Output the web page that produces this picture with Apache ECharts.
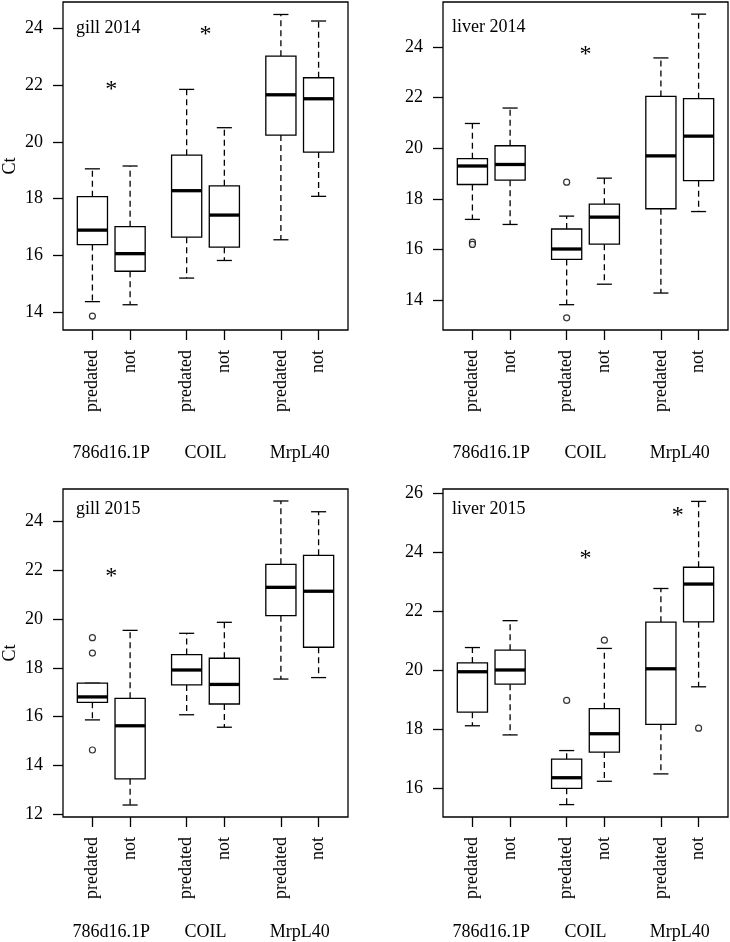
<!DOCTYPE html>
<html>
<head>
<meta charset="utf-8">
<script src="https://cdn.jsdelivr.net/npm/echarts@6/dist/echarts.min.js"></script>
<style>
html,body{margin:0;padding:0;background:#fff;}
#chart{width:730px;height:942px;}
</style>
</head>
<body>
<div id="chart"></div>
<script>
// ---- data ----
const positions = [1, 2, 3.5, 4.5, 6, 7];
const groupLabels = ['predated', 'not', 'predated', 'not', 'predated', 'not'];
const genes = ['786d16.1P', 'COIL', 'MrpL40'];
const genePositions = [1.5, 4, 6.5];

const panelTitles = ['gill 2014', 'liver 2014', 'gill 2015', 'liver 2015'];

// [low whisker, Q1, median, Q3, high whisker] for each box
const gill2014Box = [
  [14.37, 16.38, 16.89, 18.07, 19.05],
  [14.26, 15.44, 16.06, 17.01, 19.15],
  [15.20, 16.64, 18.28, 19.53, 21.85],
  [15.82, 16.29, 17.42, 18.45, 20.50],
  [16.55, 20.24, 21.66, 23.02, 24.49],
  [18.08, 19.64, 21.52, 22.26, 24.26]
];
const gill2014Outliers = [[1, 13.86]];
const gill2014Stars = [[1.5, 22.0], [4, 23.95]];

const liver2014Box = [
  [17.19, 18.57, 19.30, 19.59, 20.98],
  [16.99, 18.74, 19.36, 20.10, 21.59],
  [13.82, 15.61, 16.02, 16.81, 17.32],
  [14.63, 16.21, 17.28, 17.79, 18.82],
  [14.28, 17.61, 19.70, 22.05, 23.57],
  [17.50, 18.72, 20.48, 21.96, 25.30]
];
const liver2014Outliers = [[1, 16.29], [1, 16.20], [3.5, 18.66], [3.5, 13.30]];
const liver2014Stars = [[4, 23.88]];

const gill2015Box = [
  [15.87, 16.59, 16.81, 17.37, 17.37],
  [12.39, 13.46, 15.63, 16.75, 19.53],
  [16.08, 17.30, 17.91, 18.54, 19.41],
  [15.57, 16.52, 17.32, 18.39, 19.86],
  [17.54, 20.13, 21.29, 22.23, 24.82],
  [17.60, 18.84, 21.13, 22.60, 24.38]
];
const gill2015Outliers = [[1, 19.23], [1, 18.60], [1, 14.64]];
const gill2015Stars = [[1.5, 21.93]];

const liver2015Box = [
  [18.13, 18.59, 19.96, 20.26, 20.78],
  [17.82, 19.54, 20.02, 20.69, 21.69],
  [15.46, 16.01, 16.37, 17.00, 17.29],
  [16.25, 17.24, 17.86, 18.71, 20.75],
  [16.50, 18.18, 20.06, 21.64, 22.78],
  [19.45, 21.65, 22.93, 23.50, 25.73]
];
const liver2015Outliers = [[3.5, 18.99], [4.5, 21.03], [7, 18.05]];
const liver2015Stars = [[4, 23.95], [6.45, 25.41]];

const yTicks = [
  [14, 16, 18, 20, 22, 24],
  [14, 16, 18, 20, 22, 24],
  [12, 14, 16, 18, 20, 22, 24],
  [16, 18, 20, 22, 24, 26]
];
const yRanges = [[13.37, 24.93], [12.82, 25.78], [11.90, 25.31], [15.04, 26.15]];
const xRange = [0.22, 7.78];

// ---- chart ----
const FONT = '"Liberation Serif", "DejaVu Serif", serif';
const boxes = [gill2014Box, liver2014Box, gill2015Box, liver2015Box];
const outliers = [gill2014Outliers, liver2014Outliers, gill2015Outliers, liver2015Outliers];
const stars = [gill2014Stars, liver2014Stars, gill2015Stars, liver2015Stars];

const grids = [
  {left: 63, top: 2, width: 285, height: 328},
  {left: 443, top: 2, width: 285, height: 328},
  {left: 63, top: 489, width: 285, height: 328},
  {left: 443, top: 489, width: 285, height: 328}
];
const geneMargins = [114, 114, 106, 106];
const titlePos = [[76, 19], [452, 18], [76, 500], [452, 500]];

const option = {
  animation: false,
  backgroundColor: '#fff',
  title: panelTitles.map((t, i) => ({
    text: t, left: titlePos[i][0], top: titlePos[i][1], padding: 0,
    textStyle: {fontFamily: FONT, fontSize: 18, fontWeight: 'normal', color: '#000'}
  })),
  grid: grids.map(g => Object.assign({
    show: true, borderColor: '#000', borderWidth: 1.3, backgroundColor: 'transparent',
    containLabel: false, outerBoundsMode: 'none'
  }, g)),
  xAxis: [],
  yAxis: [],
  series: []
};

for (let i = 0; i < 4; i++) {
  option.xAxis.push({
    type: 'value', gridIndex: i, min: xRange[0], max: xRange[1],
    axisLine: {show: false},
    splitLine: {show: false},
    axisTick: {show: true, customValues: positions, length: 10, lineStyle: {color: '#000', width: 1.3}},
    axisLabel: {
      show: true, customValues: positions, rotate: 90, margin: 20,
      fontFamily: FONT, fontSize: 18, color: '#000',
      formatter: (v) => groupLabels[positions.indexOf(v)]
    }
  });
  option.xAxis.push({
    type: 'value', gridIndex: i, min: xRange[0], max: xRange[1], position: 'bottom',
    axisLine: {show: false}, axisTick: {show: false}, splitLine: {show: false},
    axisLabel: {
      show: true, customValues: genePositions, margin: geneMargins[i],
      fontFamily: FONT, fontSize: 18, color: '#000',
      formatter: (v) => genes[genePositions.indexOf(v)]
    }
  });
  option.yAxis.push({
    type: 'value', gridIndex: i, min: yRanges[i][0], max: yRanges[i][1],
    name: (i % 2 === 0) ? 'Ct' : '', nameLocation: 'middle', nameGap: 44, nameRotate: 90,
    nameTextStyle: {fontFamily: FONT, fontSize: 18, color: '#000'},
    axisLine: {show: false},
    splitLine: {show: false},
    axisTick: {show: true, customValues: yTicks[i], length: 10, lineStyle: {color: '#000', width: 1.3}},
    axisLabel: {
      show: true, customValues: yTicks[i], margin: 20,
      fontFamily: FONT, fontSize: 18, color: '#000'
    }
  });

  const boxData = boxes[i].map((b, k) => [positions[k]].concat(b));
  option.series.push({
    type: 'custom', xAxisIndex: i * 2, yAxisIndex: i,
    data: boxData,
    encode: {x: 0, y: [1, 2, 3, 4, 5]},
    renderItem: function (params, api) {
      const x = api.value(0);
      const lo = api.value(1), q1 = api.value(2), med = api.value(3), q3 = api.value(4), hi = api.value(5);
      const hw = 0.4, sw = 0.2;
      const tl = api.coord([x - hw, q3]);
      const br = api.coord([x + hw, q1]);
      const c = api.coord([x, q3]);
      const cq1 = api.coord([x, q1]);
      const chi = api.coord([x, hi]);
      const clo = api.coord([x, lo]);
      const ml = api.coord([x - hw, med]);
      const mr = api.coord([x + hw, med]);
      const sl = api.coord([x - sw, hi]);
      const sr = api.coord([x + sw, hi]);
      const ll = api.coord([x - sw, lo]);
      const lr = api.coord([x + sw, lo]);
      const stroke = {stroke: '#000', lineWidth: 1.3, fill: null};
      const dashed = {stroke: '#000', lineWidth: 1.3, lineDash: [6, 4], fill: null};
      return {
        type: 'group',
        children: [
          {type: 'line', shape: {x1: c[0], y1: c[1], x2: chi[0], y2: chi[1]}, style: dashed},
          {type: 'line', shape: {x1: cq1[0], y1: cq1[1], x2: clo[0], y2: clo[1]}, style: dashed},
          {type: 'line', shape: {x1: sl[0], y1: sl[1], x2: sr[0], y2: sr[1]}, style: stroke},
          {type: 'line', shape: {x1: ll[0], y1: ll[1], x2: lr[0], y2: lr[1]}, style: stroke},
          {type: 'rect', shape: {x: tl[0], y: tl[1], width: br[0] - tl[0], height: br[1] - tl[1]},
            style: {stroke: '#000', lineWidth: 1.3, fill: '#fff'}},
          {type: 'line', shape: {x1: ml[0], y1: ml[1], x2: mr[0], y2: mr[1]},
            style: {stroke: '#000', lineWidth: 3.3, fill: null}}
        ]
      };
    }
  });
  option.series.push({
    type: 'scatter', xAxisIndex: i * 2, yAxisIndex: i,
    data: outliers[i],
    symbol: 'circle', symbolSize: 6,
    itemStyle: {color: '#fff', borderColor: '#000', borderWidth: 1.2},
    z: 5
  });
  option.series.push({
    type: 'custom', xAxisIndex: i * 2, yAxisIndex: i,
    data: stars[i],
    encode: {x: 0, y: 1},
    renderItem: function (params, api) {
      const p = api.coord([api.value(0), api.value(1)]);
      return {
        type: 'text',
        style: {text: '*', x: p[0], y: p[1] + 5, align: 'center', verticalAlign: 'middle',
          font: '24px "Liberation Serif", serif', fill: '#000'}
      };
    }
  });
}

const chart = echarts.init(document.getElementById('chart'), null, {renderer: 'canvas'});
chart.setOption(option);
</script>
</body>
</html>
